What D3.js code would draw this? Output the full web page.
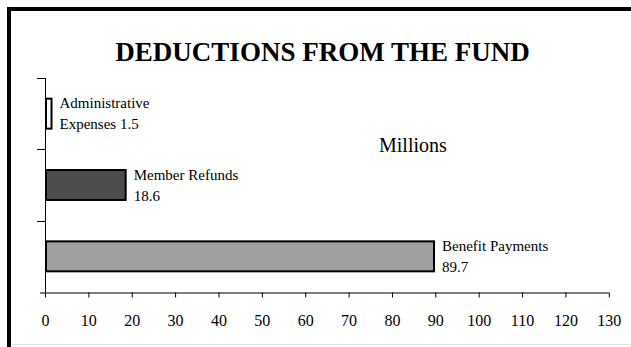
<!DOCTYPE html>
<html>
<head>
<meta charset="utf-8">
<script src="https://cdn.jsdelivr.net/npm/d3@7"></script>
<style>
  html, body { margin: 0; padding: 0; background: #fff; }
  svg { display: block; }
  svg text { font-family: "Liberation Serif", "Times New Roman", serif; }
</style>
</head>
<body>
<svg id="chart" width="631" height="347"></svg>
<script>
// Deductions from the fund, in millions
const categories = ["Administrative Expenses", "Member Refunds", "Benefit Payments"];
const labelFirstLine = ["Administrative", "Member Refunds", "Benefit Payments"];
const labelSecondPrefix = ["Expenses ", "", ""];
const values = [1.5, 18.6, 89.7];
const barFills = ["#ffffff", "#4d4d4d", "#a0a0a0"];
const xTicks = [0, 10, 20, 30, 40, 50, 60, 70, 80, 90, 100, 110, 120, 130];

const svg = d3.select("#chart");
const W = 631, H = 347;
const serif = '"Liberation Serif", "Times New Roman", serif';

// frame: heavy rule on top and left, faint rule at the bottom
svg.append("rect").attr("x", 7).attr("y", 7).attr("width", W - 7).attr("height", 4).attr("fill", "#000");
svg.append("rect").attr("x", 7).attr("y", 7).attr("width", 4).attr("height", H - 7).attr("fill", "#000");
svg.append("line").attr("x1", 11).attr("x2", W).attr("y1", 344.5).attr("y2", 344.5)
  .attr("stroke", "#e2e2e2").attr("stroke-width", 1);

// title
svg.append("text")
  .attr("x", 322.5).attr("y", 61)
  .attr("text-anchor", "middle")
  .attr("font-size", 27).attr("font-weight", "bold")
  .text("DEDUCTIONS FROM THE FUND");

const x = d3.scaleLinear().domain([0, 130]).range([45, 608.8]);
const y = d3.scaleBand().domain(categories).range([78, 292]).paddingInner(0).paddingOuter(0);
const barH = y.bandwidth() * 0.42;

// x axis
const xAxis = d3.axisBottom(x).tickValues(xTicks).tickSize(5).tickPadding(0).tickSizeOuter(0);
const gx = svg.append("g").attr("transform", "translate(0,292.5)").call(xAxis);
gx.style("font-family", serif).attr("font-family", null);
gx.select(".domain").attr("stroke", "#000").attr("d", `M40,0.5H${x(130)}`);
gx.selectAll(".tick line").attr("stroke", "#000");
gx.selectAll(".tick text")
  .style("font-family", serif)
  .attr("font-size", 16).attr("fill", "#000")
  .attr("dy", null).attr("y", 33.5);

// y axis: ticks on band boundaries
const yBounds = categories.map(c => y(c)).concat([y.range()[1]]);
const gy = svg.append("g");
gy.append("line").attr("x1", 45.5).attr("x2", 45.5).attr("y1", yBounds[0]).attr("y2", 292.5).attr("stroke", "#000");
gy.selectAll("line.t").data(yBounds.slice(0, 3)).join("line").attr("class", "t")
  .attr("x1", 37).attr("x2", 45.5)
  .attr("y1", d => Math.round(d) + 0.5).attr("y2", d => Math.round(d) + 0.5)
  .attr("stroke", "#000");

// bars
svg.append("g").selectAll("rect").data(categories).join("rect")
  .attr("x", x(0) + 1)
  .attr("y", c => y(c) + (y.bandwidth() - barH) / 2)
  .attr("width", (c, i) => x(values[i]) - x(0) - 1)
  .attr("height", barH)
  .attr("fill", (c, i) => barFills[i])
  .attr("stroke", "#000").attr("stroke-width", 2);

// value labels beside each bar
const fmt = d3.format(".1f");
const lbl = svg.append("g").attr("font-size", 15).attr("fill", "#000");
categories.forEach((c, i) => {
  const lx = x(values[i]) + 8;
  const top = y(c) + (y.bandwidth() - barH) / 2;
  const t = lbl.append("text").attr("x", lx).attr("y", top + 9.8);
  t.append("tspan").attr("x", lx).text(labelFirstLine[i]);
  t.append("tspan").attr("x", lx).attr("dy", 21).text(labelSecondPrefix[i] + fmt(values[i]));
});

// unit note
svg.append("text").attr("x", 379).attr("y", 151.5).attr("font-size", 20).text("Millions");
</script>
</body>
</html>
